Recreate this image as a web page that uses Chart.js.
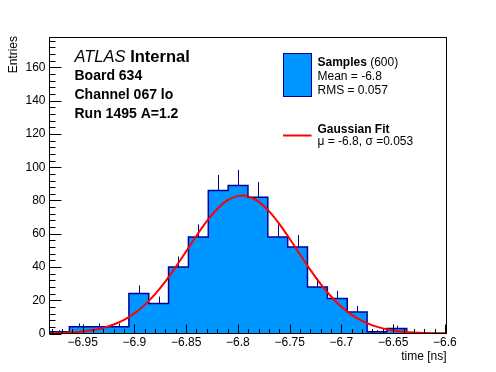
<!DOCTYPE html>
<html>
<head>
<meta charset="utf-8">
<script src="https://cdn.jsdelivr.net/npm/chart.js@4.4.1/dist/chart.umd.min.js"></script>
<style>
  html, body { margin: 0; padding: 0; background: #fff; }
  #wrap { width: 496px; height: 372px; }
</style>
</head>
<body>
<div id="wrap"><canvas id="histChart" width="496" height="372"></canvas></div>
<script>
// histogram bins (time in ns) and entries per bin
const binEdges = [-6.9820, -6.9628, -6.9437, -6.9245, -6.9053, -6.8861, -6.8670, -6.8478, -6.8286, -6.8094,
                  -6.7903, -6.7711, -6.7519, -6.7328, -6.7136, -6.6944, -6.6752, -6.6561, -6.6369, -6.6177, -6.5985];
const counts = [1, 4, 4, 4, 24, 18, 40, 58, 86, 89, 82, 58, 52, 28, 21, 13, 1, 3, 0, 0];
const errUp = [1, 2, 2, 2, 4.9, 4.2, 6.3, 7.6, 9.3, 9.4, 9.1, 7.6, 7.2, 5.3, 4.6, 3.6, 1, 1.7, 0, 0];

// gaussian fit curve
const fitX = [-6.982, -6.97, -6.96, -6.95, -6.94, -6.93, -6.92, -6.91, -6.90, -6.89, -6.88, -6.87, -6.86, -6.85,
              -6.84, -6.83, -6.82, -6.81, -6.80, -6.796, -6.79, -6.78, -6.77, -6.76, -6.75, -6.74, -6.73, -6.72,
              -6.71, -6.70, -6.69, -6.68, -6.67, -6.66, -6.65, -6.64, -6.63, -6.62, -6.61, -6.5985];
const fitY = [0.18, 0.38, 0.69, 1.22, 2.07, 3.40, 5.38, 8.21, 12.10, 17.22, 23.64, 31.32, 40.04, 49.39,
              58.80, 67.56, 74.91, 80.15, 82.76, 83.0, 82.47, 79.30, 73.59, 65.90, 56.95, 47.50, 38.23, 29.69,
              22.25, 16.09, 11.23, 7.57, 4.92, 3.08, 1.87, 1.09, 0.61, 0.33, 0.18, 0.08];

const xTicks = [-6.95, -6.9, -6.85, -6.8, -6.75, -6.7, -6.65, -6.6];
const yTicks = [0, 20, 40, 60, 80, 100, 120, 140, 160];

const FONT = "'Liberation Sans', Arial, sans-serif";
const HIST_FILL = '#0096ff';
const HIST_LINE = '#000099';

const histPoints = counts.map((c, i) => ({ x: binEdges[i], y: c }));
histPoints.push({ x: binEdges[binEdges.length - 1], y: counts[counts.length - 1] });
const fitPoints = fitX.map((x, i) => ({ x: x, y: fitY[i] }));

// error bars, only the part above the bar shows
const errorBars = {
    id: 'errorBars',
    beforeDatasetsDraw(chart) {
        const { ctx, scales: { x, y } } = chart;
        ctx.save();
        ctx.strokeStyle = HIST_LINE;
        ctx.lineWidth = 1;
        counts.forEach((c, i) => {
            if (c <= 0) return;
            const px = Math.round(x.getPixelForValue((binEdges[i] + binEdges[i + 1]) / 2)) + 0.5;
            ctx.beginPath();
            ctx.moveTo(px, y.getPixelForValue(c));
            ctx.lineTo(px, y.getPixelForValue(c + errUp[i]));
            ctx.stroke();
        });
        ctx.restore();
    }
};

// ROOT style frame, inner ticks and all the labels
const rootFrame = {
    id: 'rootFrame',
    afterDraw(chart) {
        const { ctx, chartArea: a, scales: { x, y } } = chart;
        ctx.save();
        ctx.strokeStyle = '#000';
        ctx.lineWidth = 1;
        ctx.strokeRect(a.left, a.top, a.right - a.left, a.bottom - a.top);

        ctx.beginPath();
        // x ticks, major every 0.05 and minor every 0.01
        for (let k = -698; k <= -660; k++) {
            const v = k / 100;
            const px = Math.round(x.getPixelForValue(v)) + 0.5;
            const len = (k % 5 === 0) ? 9 : 4.5;
            ctx.moveTo(px, a.bottom);
            ctx.lineTo(px, a.bottom - len);
        }
        // y ticks, major every 20 and minor every 4
        for (let v = 0; v <= 176; v += 4) {
            const py = Math.round(y.getPixelForValue(v)) + 0.5;
            const len = (v % 20 === 0) ? 12 : 6;
            ctx.moveTo(a.left, py);
            ctx.lineTo(a.left + len, py);
        }
        ctx.stroke();

        ctx.fillStyle = '#000';
        ctx.textBaseline = 'alphabetic';

        // axis titles
        ctx.font = '12px ' + FONT;
        ctx.textAlign = 'right';
        ctx.fillText('time [ns]', a.right, 360);
        ctx.save();
        ctx.translate(16.5, 36);
        ctx.rotate(-Math.PI / 2);
        ctx.textAlign = 'right';
        ctx.fillText('Entries', 0, 0);
        ctx.restore();

        // ATLAS label block
        ctx.textAlign = 'left';
        ctx.font = 'italic 16.5px ' + FONT;
        ctx.fillText('ATLAS', 74.5, 61.5);
        const w = ctx.measureText('ATLAS ').width;
        ctx.font = 'bold 16.5px ' + FONT;
        ctx.fillText('Internal', 74.5 + w, 61.5);
        ctx.font = 'bold 14px ' + FONT;
        ctx.fillText('Board 634', 74.5, 80);
        ctx.fillText('Channel 067 lo', 74.5, 99);
        ctx.fillText('Run 1495 A=1.2', 74.5, 117.5);

        // legend
        ctx.fillStyle = HIST_FILL;
        ctx.fillRect(283.5, 53.5, 28, 43);
        ctx.strokeStyle = HIST_LINE;
        ctx.strokeRect(283.5, 53.5, 28, 43);
        ctx.strokeStyle = '#ff0000';
        ctx.lineWidth = 2;
        ctx.beginPath();
        ctx.moveTo(283, 135.5);
        ctx.lineTo(311.5, 135.5);
        ctx.stroke();

        ctx.fillStyle = '#000';
        ctx.font = 'bold 12px ' + FONT;
        ctx.fillText('Samples', 317.5, 66);
        const sw = ctx.measureText('Samples').width;
        ctx.font = '12px ' + FONT;
        ctx.fillText(' (600)', 317.5 + sw, 66);
        ctx.fillText('Mean = -6.8', 317.5, 79.5);
        ctx.fillText('RMS = 0.057', 317.5, 93.5);
        ctx.font = 'bold 12px ' + FONT;
        ctx.fillText('Gaussian Fit', 317.5, 132.5);
        ctx.font = '12px ' + FONT;
        ctx.fillText('\u03bc = -6.8, \u03c3 =0.053', 317.5, 144.5);
        ctx.restore();
    }
};

const ctx = document.getElementById('histChart').getContext('2d');
const histChart = new Chart(ctx, {
    type: 'line',
    data: {
        datasets: [{
            label: 'Samples',
            data: histPoints,
            stepped: true,
            fill: 'origin',
            backgroundColor: HIST_FILL,
            borderColor: HIST_LINE,
            borderWidth: 1.5,
            pointRadius: 0,
            order: 2
        }, {
            label: 'Gaussian Fit',
            data: fitPoints,
            fill: false,
            borderColor: '#ff0000',
            borderWidth: 2,
            cubicInterpolationMode: 'monotone',
            pointRadius: 0,
            order: 1
        }]
    },
    options: {
        responsive: false,
        animation: false,
        events: [],
        layout: { padding: { top: 37.5, right: 49.5, left: 0, bottom: 0 } },
        plugins: {
            legend: { display: false },
            tooltip: { enabled: false }
        },
        scales: {
            x: {
                type: 'linear',
                min: binEdges[0],
                max: binEdges[binEdges.length - 1],
                afterBuildTicks: (scale) => { scale.ticks = xTicks.map(v => ({ value: v })); },
                afterFit: (scale) => { scale.height = 38.5; },
                grid: { display: false, drawTicks: false },
                border: { display: false },
                ticks: {
                    autoSkip: false,
                    maxRotation: 0,
                    padding: 2,
                    color: '#000',
                    font: { family: FONT, size: 12 },
                    callback: (v) => String(v).replace('-', '\u2212')
                }
            },
            y: {
                type: 'linear',
                min: 0,
                max: 178,
                afterBuildTicks: (scale) => { scale.ticks = yTicks.map(v => ({ value: v })); },
                afterFit: (scale) => { scale.width = 49.5; },
                grid: { display: false, drawTicks: false },
                border: { display: false },
                ticks: {
                    padding: 4,
                    color: '#000',
                    font: { family: FONT, size: 12 }
                }
            }
        }
    },
    plugins: [errorBars, rootFrame]
});
</script>
</body>
</html>
